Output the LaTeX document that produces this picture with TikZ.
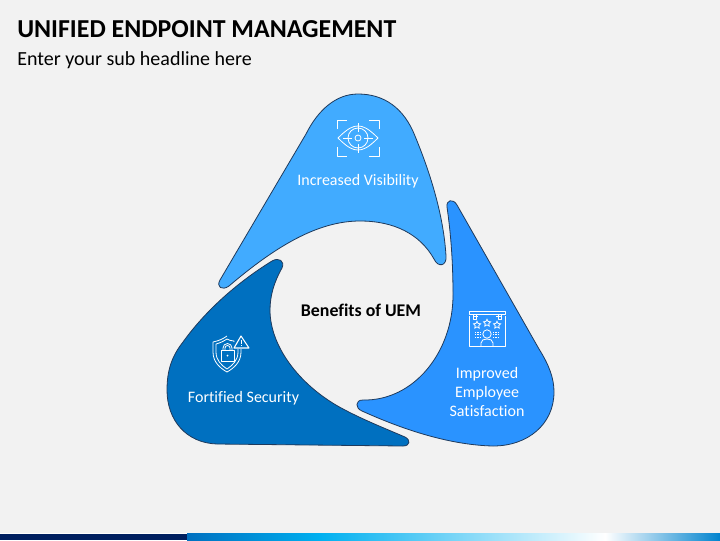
\documentclass[tikz,border=0pt]{standalone}
\usepackage{fontspec}
\setmainfont{Carlito}[RawFeature={-liga}]
\usepackage{xcolor}
\usetikzlibrary{arrows.meta,positioning,calc,shapes.geometric}
\definecolor{pagebg}{HTML}{F2F2F2}
\definecolor{edgeblue}{HTML}{1F3A5C}
\definecolor{topblue}{HTML}{41ABFF}
\definecolor{rightblue}{HTML}{2A93FF}
\definecolor{leftblue}{HTML}{0070C0}
\definecolor{barnavy}{HTML}{002060}
\definecolor{barsky}{HTML}{00B0F0}

\begin{document}
\begin{tikzpicture}[x=0.75pt,y=-0.75pt]
\tikzstyle{petal}=[draw=edgeblue, line width=0.6pt, line join=round]
\tikzstyle{label}=[text=white, align=center, font=\fontsize{12}{14.25}\selectfont, inner sep=0pt]
\tikzstyle{icon}=[draw=white, line width=0.6pt, line join=round]
\useasboundingbox (0,0) rectangle (720,540);
\fill[pagebg] (0,0) rectangle (720,540);

% bottom bar
\fill[white] (0,532.5) rectangle (720,534);
\fill[barnavy] (0,533.5) rectangle (187,540);
\shade[left color=leftblue, right color=barsky] (187,533.5) rectangle (320,540);
\shade[left color=barsky, right color=white] (320,533.5) rectangle (605,540);
\shade[left color=white, right color=leftblue!70!barsky] (605,533.5) rectangle (720,540);

% title
\node[anchor=west, inner sep=0pt, font=\fontsize{19.4}{23}\selectfont\bfseries] (title) at (17,29) {UNIFIED ENDPOINT MANAGEMENT};
\node[anchor=west, inner sep=0pt, font=\fontsize{15}{18}\selectfont] (subtitle) at (17,60) {Enter your sub headline here};

% petals
\draw[petal, fill=topblue] (220,280)
  -- (306,134)
  .. controls (318,110) and (336,94) .. (358,94)
  .. controls (384,94) and (404,108) .. (415,136)
  .. controls (434,182) and (444,222) .. (446,256)
  .. controls (447,266) and (438,268) .. (434,259)
  .. controls (420,234) and (394,221) .. (360,221)
  .. controls (318,221) and (276,246) .. (229,286)
  .. controls (222,291) and (216,287) .. (220,280) -- cycle;
\draw[petal, fill=leftblue] (272,261)
  .. controls (279,257) and (285,261) .. (282,268)
  .. controls (274,282) and (270,296) .. (270,310)
  .. controls (270,348) and (302,388) .. (345,410)
  .. controls (364,420) and (384,428) .. (405,437)
  .. controls (411,440) and (410,446) .. (403,446)
  -- (217,444)
  .. controls (186,443) and (167,420) .. (167,390)
  .. controls (167,370) and (172,356) .. (183,342)
  .. controls (206,310) and (238,282) .. (272,261) -- cycle;
\draw[petal, fill=rightblue] (447,207)
  .. controls (446,200) and (453,198) .. (457,205)
  -- (539,349)
  .. controls (549,365) and (554,378) .. (554,392)
  .. controls (554,424) and (528,446) .. (493,446)
  .. controls (450,445) and (404,430) .. (362,411)
  .. controls (355,408) and (355,400) .. (363,400)
  .. controls (414,401) and (453,352) .. (453,295)
  .. controls (453,263) and (451,235) .. (447,207) -- cycle;

% texts
\node[label] (visibility) at (358,181) {Increased Visibility};
\node[label] (security) at (243.5,398) {Fortified Security};
\node[label] (satisfaction) at (487,391.5) {Improved\\Employee\\Satisfaction};
\node[inner sep=0pt, font=\fontsize{13.4}{16}\selectfont\bfseries] (center) at (361,310) {Benefits of UEM};

% eye icon
\begin{scope}[shift={(358,138)}]
\foreach \sx in {-1,1}
  \foreach \sy in {-1,1}
    \draw[icon] (\sx*21,\sy*9) -- (\sx*21,\sy*18) -- (\sx*11,\sy*18);
\draw[icon] (-20,0) .. controls (-10,-10) and (-5,-12) .. (0,-12) .. controls (5,-12) and (10,-10) .. (20,0)
  .. controls (10,10) and (5,12) .. (0,12) .. controls (-5,12) and (-10,10) .. (-20,0) -- cycle;
\draw[icon] (0,0) circle (10);
\draw[icon] (0,0) circle (3);
\foreach \a in {0,90,180,270}
  \draw[icon] (\a:6) -- (\a:15);
\end{scope}

% shield icon
\begin{scope}[shift={(227,354)}]
\draw[icon] (0,-18) .. controls (-4,-15) and (-9,-13) .. (-14,-12)
  -- (-14,-2) .. controls (-14,8) and (-7,14) .. (0,18)
  .. controls (7,14) and (14,8) .. (14,-2) -- (14,-5);
\draw[icon] (7,-12) -- (7,-13) .. controls (4,-13) and (2,-14) .. (0,-15) .. controls (-3,-13) and (-7,-11) .. (-11,-10)
  -- (-11,-2) .. controls (-11,6) and (-6,11) .. (0,15)
  .. controls (6,11) and (11,6) .. (11,-2) -- (11,-5);
\draw[icon] (-6,-4) rectangle (7,7);
\draw[icon] (-4,-4) -- (-4,-6) arc (180:360:4.5) -- (5,-4);
\draw[icon] (-2,-4) -- (-2,-6) arc (180:360:2.5) -- (3,-4);
\fill[white] (0.5,1.5) circle (1);
\draw[icon, line width=0.8pt] (14,-18) -- (7,-6) -- (22,-6) -- cycle;
\draw[white, line width=0.7pt] (14.5,-14) -- (14.5,-10) (14.5,-8.8) -- (14.5,-8);
\end{scope}

% employee icon
\begin{scope}[shift={(487,329)}]
\draw[icon] (-18,-18) rectangle (18,-15);
\draw[icon] (-18,-13) -- (-18,17) -- (18,17) -- (18,-13);
\draw[icon] (-14,-13) -- (-9,-13) (9,-13) -- (14,-13);
\draw[icon] (-14,-15) -- (-14,-10) -- (-11,-10) -- (-11,-15);
\draw[icon] (11,-15) -- (11,-10) -- (14,-10) -- (14,-15);
\foreach \i/\px/\py in {1/-10/-4, 2/0/-6, 3/10/-4}
  \node[star, star points=5, star point ratio=2, draw=white, line width=0.6pt, inner sep=1pt] (star\i) at (\px,\py) {};
\draw[icon] (0,5) circle (4.2);
\draw[icon] (-6,17) -- (-6,14) .. controls (-6,11) and (-3,10) .. (0,10) .. controls (3,10) and (6,11) .. (6,14) -- (6,17);
\foreach \sx in {-9,9}
  \foreach \sy in {3,5.5,8}
    \draw[white, line width=0.4pt, dash pattern=on 0.9pt off 0.9pt] (\sx-3,\sy) -- (\sx+3,\sy);
\end{scope}
\end{tikzpicture}
\end{document}
